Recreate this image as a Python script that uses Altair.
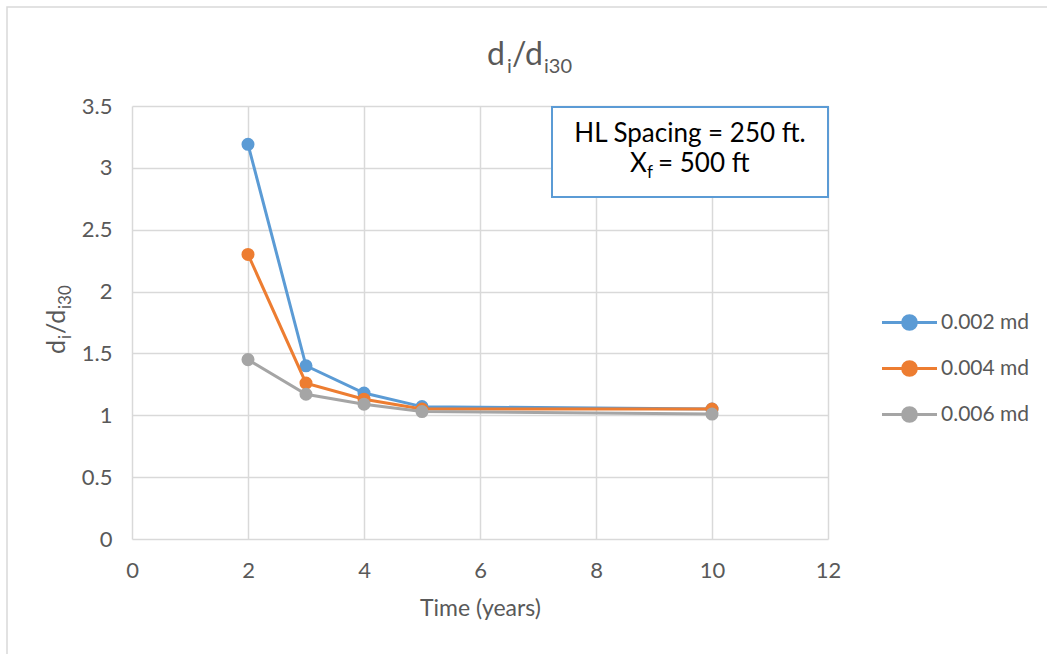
import altair as alt
import pandas as pd

# ---- data ----
years = [2, 3, 4, 5, 10]
series_names = ["0.002 md", "0.004 md", "0.006 md"]
vals_002 = [3.19, 1.40, 1.18, 1.07, 1.05]
vals_004 = [2.30, 1.26, 1.13, 1.05, 1.05]
vals_006 = [1.45, 1.17, 1.09, 1.03, 1.01]
colors = ["#5B9BD5", "#ED7D31", "#A5A5A5"]
x_ticks = [0, 2, 4, 6, 8, 10, 12]
y_ticks = [0, 0.5, 1, 1.5, 2, 2.5, 3, 3.5]

rows = []
for name, vals in zip(series_names, [vals_002, vals_004, vals_006]):
    for t, v in zip(years, vals):
        rows.append({"Time": t, "ratio": v, "series": name})
df = pd.DataFrame(rows)

FONT = "Lato"
GREY_TXT = "#595959"
W, H = 696, 433
PL, PT = 132, 106

color_scale = alt.Scale(domain=series_names, range=colors)
xs = alt.Scale(domain=[0, 12], nice=False)
ys = alt.Scale(domain=[0, 3.5], nice=False)

legend = alt.Legend(
    title=None, orient="none", legendX=762, legendY=201,
    symbolType="M-2,0H2M0.5,0A0.5,0.5 0 1,1 -0.5,0A0.5,0.5 0 1,1 0.5,0",
    symbolSize=756, symbolStrokeWidth=3, symbolOpacity=1,
    labelFont=FONT, labelFontSize=21, labelColor=GREY_TXT, labelOffset=16,
    rowPadding=17,
)

xenc = alt.X("Time:Q", scale=xs,
             axis=alt.Axis(values=x_ticks, title="Time (years)", grid=True, domain=False,
                           ticks=False, tickSize=0, labelPadding=21, labelFontSize=22,
                           labelFlush=False,
                           labelColor=GREY_TXT, labelFont=FONT, titleFont=FONT,
                           titleFontSize=23, titleColor=GREY_TXT, titleFontWeight="normal",
                           titlePadding=16, gridColor="#D9D9D9", gridWidth=1.5))
yenc = alt.Y("ratio:Q", scale=ys,
             axis=alt.Axis(values=y_ticks, title=None, grid=True, domain=False,
                           ticks=False, tickSize=0, labelPadding=20, labelFontSize=22,
                           labelFlush=False,
                           labelColor=GREY_TXT, labelFont=FONT, format="~g",
                           gridColor="#D9D9D9", gridWidth=1.5))

layers = []
for name in series_names:
    sub = df[df["series"] == name]
    base = alt.Chart(sub)
    layers.append(base.mark_line(strokeWidth=3).encode(
        x=xenc, y=yenc, color=alt.Color("series:N", scale=color_scale, legend=legend)))
    layers.append(base.mark_point(filled=True, size=170, opacity=1).encode(
        x=xenc, y=yenc, color=alt.Color("series:N", scale=color_scale, legend=legend)))

one = alt.Data(values=[{"a": 1}])

def txt(s, x, y, size, color=GREY_TXT, align="left", angle=0):
    kw = dict(text=s, font=FONT, fontSize=size, color=color, align=align, baseline="alphabetic")
    if angle:
        kw["angle"] = angle
    return alt.Chart(one).mark_text(**kw).encode(x=alt.value(x), y=alt.value(y))

# outer border (no fill so the grid stays visible)
border = alt.Chart(one).mark_rect(fillOpacity=0, stroke="#D9D9D9", strokeWidth=1.5).encode(
    x=alt.value(7 - PL), x2=alt.value(1060 - PL), y=alt.value(7 - PT), y2=alt.value(670 - PT))

# title d_i/d_i30
title_parts = [
    txt("d", 487 - PL, 65 - PT, 32),
    txt("i", 507 - PL, 73 - PT, 20),
    txt("/d", 512 - PL, 65 - PT, 32),
    txt("i30", 544 - PL, 73 - PT, 20),
]

# y axis title, rotated
ytitle = [
    txt("d", 65 - PL, 354 - PT, 25, angle=270),
    txt("i", 71 - PL, 339 - PT, 17, angle=270),
    txt("/d", 65 - PL, 334 - PT, 25, angle=270),
    txt("i30", 71 - PL, 309 - PT, 17, angle=270),
]

# annotation box
box = alt.Chart(one).mark_rect(fill="white", stroke="#5B9BD5", strokeWidth=2).encode(
    x=alt.value(552 - PL), x2=alt.value(828 - PL), y=alt.value(107 - PT), y2=alt.value(197 - PT))
box_text = [
    txt("HL Spacing = 250 ft.", 690 - PL, 142 - PT, 26, color="#000000", align="center"),
    txt("X", 630 - PL, 172 - PT, 26, color="#000000"),
    txt("f", 647 - PL, 178 - PT, 17, color="#000000"),
    txt("= 500 ft", 658 - PL, 172 - PT, 26, color="#000000"),
]

chart = alt.layer(border, *layers, box, *box_text, *title_parts, *ytitle).properties(
    width=W, height=H,
    padding={"left": PL, "top": PT, "right": 1047 - PL - W, "bottom": 654 - PT - H},
    autosize=alt.AutoSizeParams(type="none"),
    background="white",
).configure_view(stroke=None)

chart.save("out.html", embed_options={"renderer": "svg", "actions": False})
